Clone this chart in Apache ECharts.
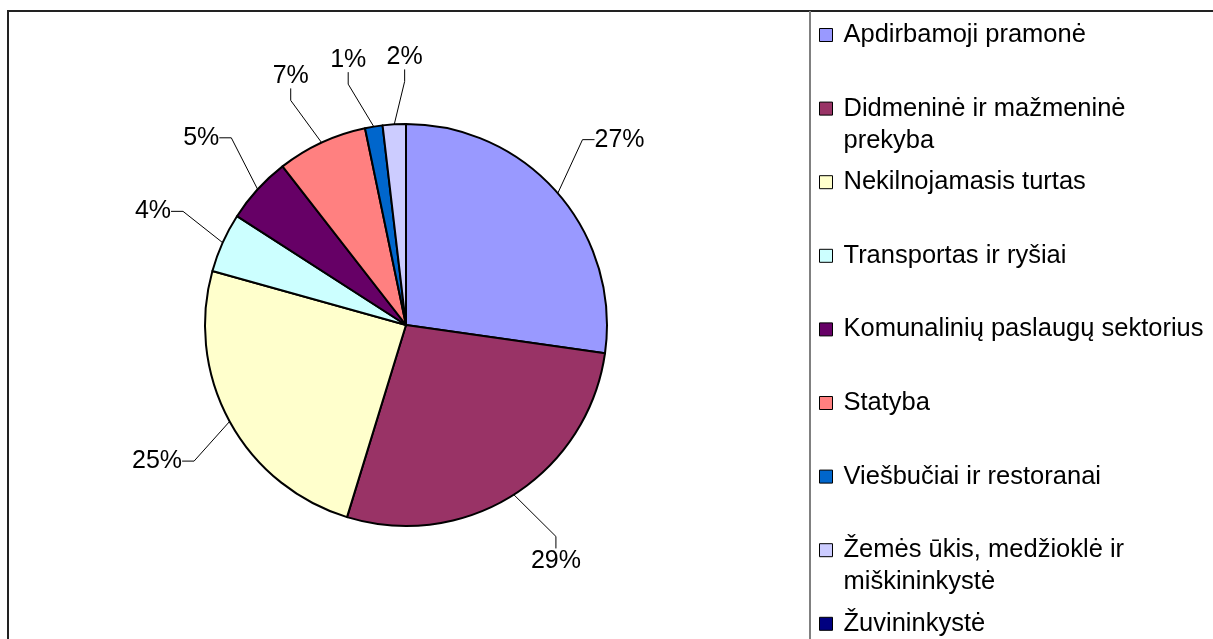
<!DOCTYPE html>
<html>
<head>
<meta charset="utf-8">
<title>Sektoriai</title>
<script src="https://cdn.jsdelivr.net/npm/echarts@6/dist/echarts.min.js"></script>
<style>
  html, body { margin: 0; padding: 0; background: #fff; }
  #chart { width: 1213px; height: 639px; }
</style>
</head>
<body>
<div id="chart"></div>
<script>
const sectors = [
  'Apdirbamoji pramonė',
  'Didmeninė ir mažmeninė prekyba',
  'Nekilnojamasis turtas',
  'Transportas ir ryšiai',
  'Komunalinių paslaugų sektorius',
  'Statyba',
  'Viešbučiai ir restoranai',
  'Žemės ūkis, medžioklė ir miškininkystė',
  'Žuvininkystė',
]
// slice sizes (%)
const shares = [27.25, 27.5, 24.6, 4.77, 5.37, 7.26, 1.41, 1.86, 0]
// percentages as printed next to the slices
const shareLabels = ['27%', '29%', '25%', '4%', '5%', '7%', '1%', '2%', '']
// legend entries as they wrap in the box
const legendText = [
  'Apdirbamoji pramonė',
  'Didmeninė ir mažmeninė\nprekyba',
  'Nekilnojamasis turtas',
  'Transportas ir ryšiai',
  'Komunalinių paslaugų sektorius',
  'Statyba',
  'Viešbučiai ir restoranai',
  'Žemės ūkis, medžioklė ir\nmiškininkystė',
  'Žuvininkystė',
]
const colors = ['#9999FF', '#993366', '#FFFFCC', '#CCFFFF', '#660066', '#FF8080', '#0066CC', '#CCCCFF', '#000080']

const FONT = '"Liberation Sans", Arial, sans-serif'
const CX = 406
const CY = 325
const R = 201
const LH = 32
const LEG_Y0 = 35
const LEG_STEP = 73.6
const MIN_GAP = 12 // degrees between neighbouring labels

const total = shares.reduce((a, b) => a + b, 0)
const cum = shares.map((_, i) => shares.slice(0, i).reduce((a, b) => a + b, 0))

// label angles: slice mid-angles, pushed apart where two small slices crowd
function labelAngles() {
  const idx = shares.map((_, i) => i).filter((i) => shareLabels[i])
  const ang = idx.map((i) => ((cum[i] + shares[i] / 2) / total) * 360)
  for (let k = 0; k < 20; k++) {
    for (let j = 0; j < ang.length - 1; j++) {
      if (ang[j + 1] - ang[j] < MIN_GAP) {
        const mid = (ang[j] + ang[j + 1]) / 2
        ang[j] = mid - MIN_GAP / 2
        ang[j + 1] = mid + MIN_GAP / 2
      }
    }
  }
  const out = {}
  idx.forEach((i, j) => (out[i] = ang[j]))
  return out
}
const angles = labelAngles()

// put each label just outside the pie, the way the spreadsheet does;
// ECharts then draws the leader line to the nearest edge of the slice
function placeLabel(p) {
  const a = (angles[p.dataIndex] * Math.PI) / 180
  const sx = Math.sin(a)
  const sy = -Math.cos(a)
  const hw = p.labelRect.width / 2
  const d = R + 55 + Math.abs(hw * sx) + Math.abs(12 * sy)
  return { x: CX + d * sx, y: CY + d * sy, align: 'center', verticalAlign: 'middle' }
}

function buildLegends() {
  return sectors.map((name, i) => {
    const wrapped = legendText[i].includes('\n')
    // an empty first line keeps the marker level with the first text line
    const text = wrapped ? '\n' + legendText[i] : legendText[i]
    const lines = text.split('\n').length
    const textH = lines * LH + 8
    return {
      data: [name],
      orient: 'vertical',
      left: 819,
      top: LEG_Y0 + i * LEG_STEP - textH / 2,
      padding: 0,
      icon: 'rect',
      itemWidth: 13,
      itemHeight: 13,
      selectedMode: false,
      formatter: () => text,
      itemStyle: { borderColor: '#000', borderWidth: 1 },
      textStyle: {
        fontFamily: FONT,
        fontSize: 25.5,
        lineHeight: LH,
        color: '#000',
        padding: [0, 0, 8, 6],
      },
    }
  })
}

const chart = echarts.init(document.getElementById('chart'), null, { renderer: 'canvas' })
chart.setOption({
  animation: false,
  backgroundColor: '#fff',
  color: colors,
  graphic: [
    {
      type: 'rect',
      z: -10,
      shape: { x: 8, y: 11, width: 1300, height: 700 },
      style: { fill: 'none', stroke: '#222', lineWidth: 2 },
    },
    {
      type: 'line',
      z: -10,
      shape: { x1: 810, y1: 11, x2: 810, y2: 700 },
      style: { stroke: '#808080', lineWidth: 2 },
    },
  ],
  legend: buildLegends(),
  series: [
    {
      type: 'pie',
      center: [CX, CY],
      radius: R,
      startAngle: 90,
      clockwise: true,
      avoidLabelOverlap: false,
      silent: true,
      emphasis: { disabled: true },
      itemStyle: { borderColor: '#000', borderWidth: 2 },
      label: {
        show: true,
        position: 'outside',
        formatter: (p) => shareLabels[p.dataIndex],
        fontFamily: FONT,
        fontSize: 25,
        color: '#000',
      },
      labelLine: {
        show: true,
        length: 15,
        length2: 12,
        lineStyle: { color: '#000', width: 1 },
      },
      labelLayout: placeLabel,
      data: sectors.map((name, i) => {
        const item = { name, value: shares[i] }
        if (!shareLabels[i]) {
          item.label = { show: false }
          item.labelLine = { show: false }
        }
        return item
      }),
    },
  ],
})
</script>
</body>
</html>
